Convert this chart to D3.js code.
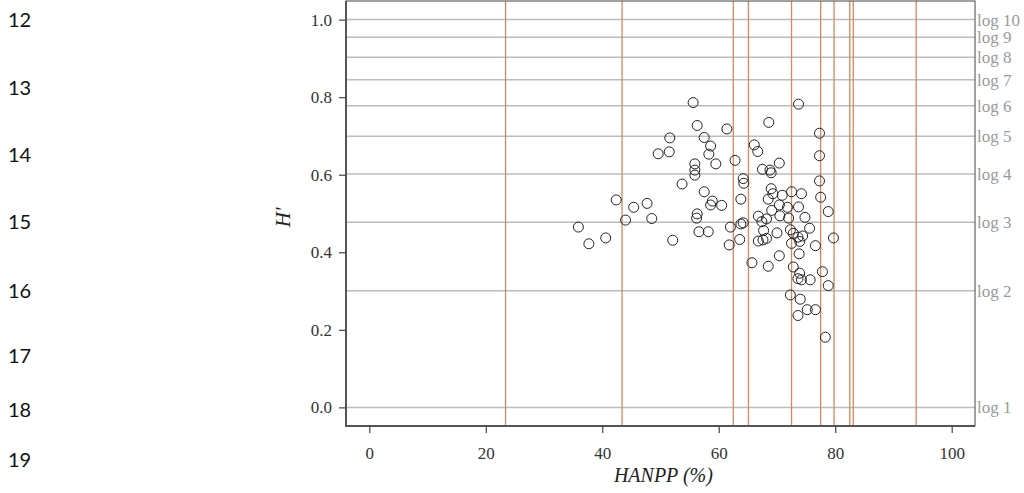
<!DOCTYPE html>
<html>
<head>
<meta charset="utf-8">
<script src="https://cdn.jsdelivr.net/npm/d3@7"></script>
<style>
    body { margin: 0; background: #fff; }
    #chart { width: 1024px; height: 493px; }
    .serif { font-family: "Liberation Serif", "Times New Roman", Times, serif; }
    .lineno { font-family: Lato, "Open Sans", sans-serif; font-size: 20px; fill: #111; }
</style>
</head>
<body>
<div id="chart"></div>
<script>
// document line numbers shown at the left margin
const lineNumbers = [12, 13, 14, 15, 16, 17, 18, 19];

// HANPP (%) of each sample
const hanpp = [
    55.6, 73.7, 68.6, 56.3, 61.4, 77.3, 51.6, 57.5, 58.6, 66.1,
    66.7, 49.6, 51.5, 58.3, 77.3, 59.5, 62.8, 70.4, 55.9, 55.9,
    55.9, 67.5, 68.8, 69.0, 53.7, 64.2, 64.3, 77.3, 57.5, 69.0,
    69.3, 70.9, 72.5, 74.2, 42.4, 58.9, 58.6, 60.5, 63.8, 68.5,
    77.5, 70.4, 45.4, 47.7, 48.5, 44.0, 56.3, 56.2, 69.1, 71.8,
    73.7, 78.8, 66.8, 68.2, 70.5, 72.0, 74.8, 64.2, 63.8, 62.0,
    35.9, 40.6, 37.7, 52.1, 56.6, 58.2, 67.7, 72.3, 75.6, 70.0,
    68.2, 66.8, 63.6, 61.8, 73.6, 74.4, 76.6, 79.7, 65.7, 68.5,
    70.4, 72.5, 73.8, 72.8, 73.9, 73.6, 74.2, 75.7, 77.8, 78.8,
    72.3, 74.0, 73.6, 75.2, 76.6, 78.3, 72.8, 73.9, 67.6, 67.4
];

// Shannon diversity H' of each sample
const hPrime = [
    0.786, 0.782, 0.735, 0.727, 0.718, 0.707, 0.695, 0.696, 0.674, 0.677,
    0.660, 0.654, 0.659, 0.653, 0.649, 0.628, 0.637, 0.630, 0.628, 0.612,
    0.599, 0.614, 0.612, 0.605, 0.576, 0.590, 0.578, 0.584, 0.556, 0.564,
    0.551, 0.547, 0.556, 0.551, 0.535, 0.532, 0.522, 0.521, 0.537, 0.537,
    0.542, 0.522, 0.516, 0.526, 0.487, 0.483, 0.499, 0.488, 0.508, 0.516,
    0.517, 0.505, 0.493, 0.486, 0.494, 0.488, 0.490, 0.476, 0.473, 0.465,
    0.465, 0.437, 0.422, 0.431, 0.453, 0.453, 0.456, 0.458, 0.462, 0.450,
    0.436, 0.429, 0.433, 0.419, 0.439, 0.442, 0.417, 0.437, 0.373, 0.364,
    0.391, 0.423, 0.396, 0.362, 0.346, 0.332, 0.329, 0.329, 0.350, 0.314,
    0.290, 0.279, 0.237, 0.252, 0.252, 0.181, 0.449, 0.428, 0.432, 0.479
];

// vertical reference lines (HANPP %)
const hanppMarks = [23.4, 43.4, 62.5, 65.1, 72.5, 77.5, 79.8, 82.5, 83.1, 93.9];

// horizontal reference lines: H' = log10(n)
const logLevels = [1, 2, 3, 4, 5, 6, 7, 8, 9, 10];

const xTicks = [0, 20, 40, 60, 80, 100];
const yTicks = [0, 0.2, 0.4, 0.6, 0.8, 1.0];

class ScatterVis {

    constructor(parentElement) {
        this.parentElement = parentElement;
        this.initVis();
    }

    initVis() {
        let vis = this;

        vis.margin = {top: 1, right: 49, bottom: 67, left: 346};
        vis.width = 1024 - vis.margin.left - vis.margin.right;
        vis.height = 493 - vis.margin.top - vis.margin.bottom;

        vis.root = d3.select("#" + vis.parentElement).append("svg")
            .attr("width", 1024)
            .attr("height", 493);

        vis.svg = vis.root.append("g")
            .attr("transform", "translate(" + vis.margin.left + "," + vis.margin.top + ")");

        vis.x = d3.scaleLinear().domain([-4, 104]).range([0, vis.width]);
        vis.y = d3.scaleLinear().domain([-0.048, 1.048]).range([vis.height, 0]);

        vis.wrangleData();
    }

    wrangleData() {
        let vis = this;
        vis.points = hanpp.map((d, i) => ({x: d, y: hPrime[i]}));
        vis.updateVis();
    }

    updateVis() {
        let vis = this;

        // line numbers of the page
        const lineY = [27, 95, 162, 229, 298, 363, 417, 467];
        vis.root.selectAll(".lineno")
            .data(lineNumbers)
            .enter()
            .append("text")
            .attr("class", "lineno")
            .attr("x", 8)
            .attr("y", (d, i) => lineY[i])
            .text(d => d);

        // grey log lines
        vis.svg.append("g")
            .selectAll("line")
            .data(logLevels)
            .enter()
            .append("line")
            .attr("x1", 0)
            .attr("x2", vis.width)
            .attr("y1", d => vis.y(Math.log10(d)))
            .attr("y2", d => vis.y(Math.log10(d)))
            .style("stroke", "#bcbcbc")
            .style("stroke-width", 1.5);

        // labels on the right
        vis.svg.append("g")
            .selectAll("text")
            .data(logLevels)
            .enter()
            .append("text")
            .attr("class", "serif")
            .attr("x", vis.width + 2)
            .attr("y", d => vis.y(Math.log10(d)))
            .attr("dy", "0.35em")
            .style("font-size", "17px")
            .style("fill", "#9a9a9a")
            .text(d => "log " + d);

        // orange vertical lines
        vis.svg.append("g")
            .selectAll("line")
            .data(hanppMarks)
            .enter()
            .append("line")
            .attr("x1", d => vis.x(d))
            .attr("x2", d => vis.x(d))
            .attr("y1", 0)
            .attr("y2", vis.height)
            .style("stroke", "#d6885f")
            .style("stroke-width", 1.3);

        // points
        vis.svg.append("g")
            .selectAll("circle")
            .data(vis.points)
            .enter()
            .append("circle")
            .attr("cx", d => vis.x(d.x))
            .attr("cy", d => vis.y(d.y))
            .attr("r", 5)
            .style("fill", "none")
            .style("stroke", "#222")
            .style("stroke-width", 1);

        // frame
        vis.svg.append("rect")
            .attr("width", vis.width)
            .attr("height", vis.height)
            .style("fill", "none")
            .style("stroke", "#444")
            .style("stroke-width", 1);
        vis.svg.append("path")
            .attr("d", "M0,0V" + vis.height + "H" + vis.width)
            .style("fill", "none")
            .style("stroke", "#555")
            .style("stroke-width", 2);

        // axes
        let xAxis = vis.svg.append("g")
            .attr("transform", "translate(0," + vis.height + ")")
            .call(d3.axisBottom(vis.x).tickValues(xTicks).tickSize(7).tickPadding(14));
        let yAxis = vis.svg.append("g")
            .call(d3.axisLeft(vis.y).tickValues(yTicks).tickFormat(d3.format(".1f")).tickSize(7).tickPadding(7));

        [xAxis, yAxis].forEach(a => {
            a.attr("font-family", null).attr("font-size", null);
            a.select(".domain").remove();
            a.selectAll(".tick line").style("stroke", "#444").style("stroke-width", 1.2);
            a.selectAll(".tick text")
                .attr("class", "serif")
                .style("font-size", "17px")
                .style("fill", "#333");
        });

        // axis titles
        vis.svg.append("text")
            .attr("class", "serif")
            .attr("x", vis.x(50.5))
            .attr("y", vis.height + 56)
            .attr("text-anchor", "middle")
            .style("font-style", "italic")
            .style("font-size", "20px")
            .style("fill", "#222")
            .text("HANPP (%)");

        vis.svg.append("text")
            .attr("class", "serif")
            .attr("transform", "translate(" + (-56) + "," + vis.y(0.49) + ")rotate(-90)")
            .attr("text-anchor", "middle")
            .style("font-style", "italic")
            .style("font-size", "21px")
            .style("fill", "#222")
            .text("H'");
    }
}

new ScatterVis("chart");
</script>
</body>
</html>
